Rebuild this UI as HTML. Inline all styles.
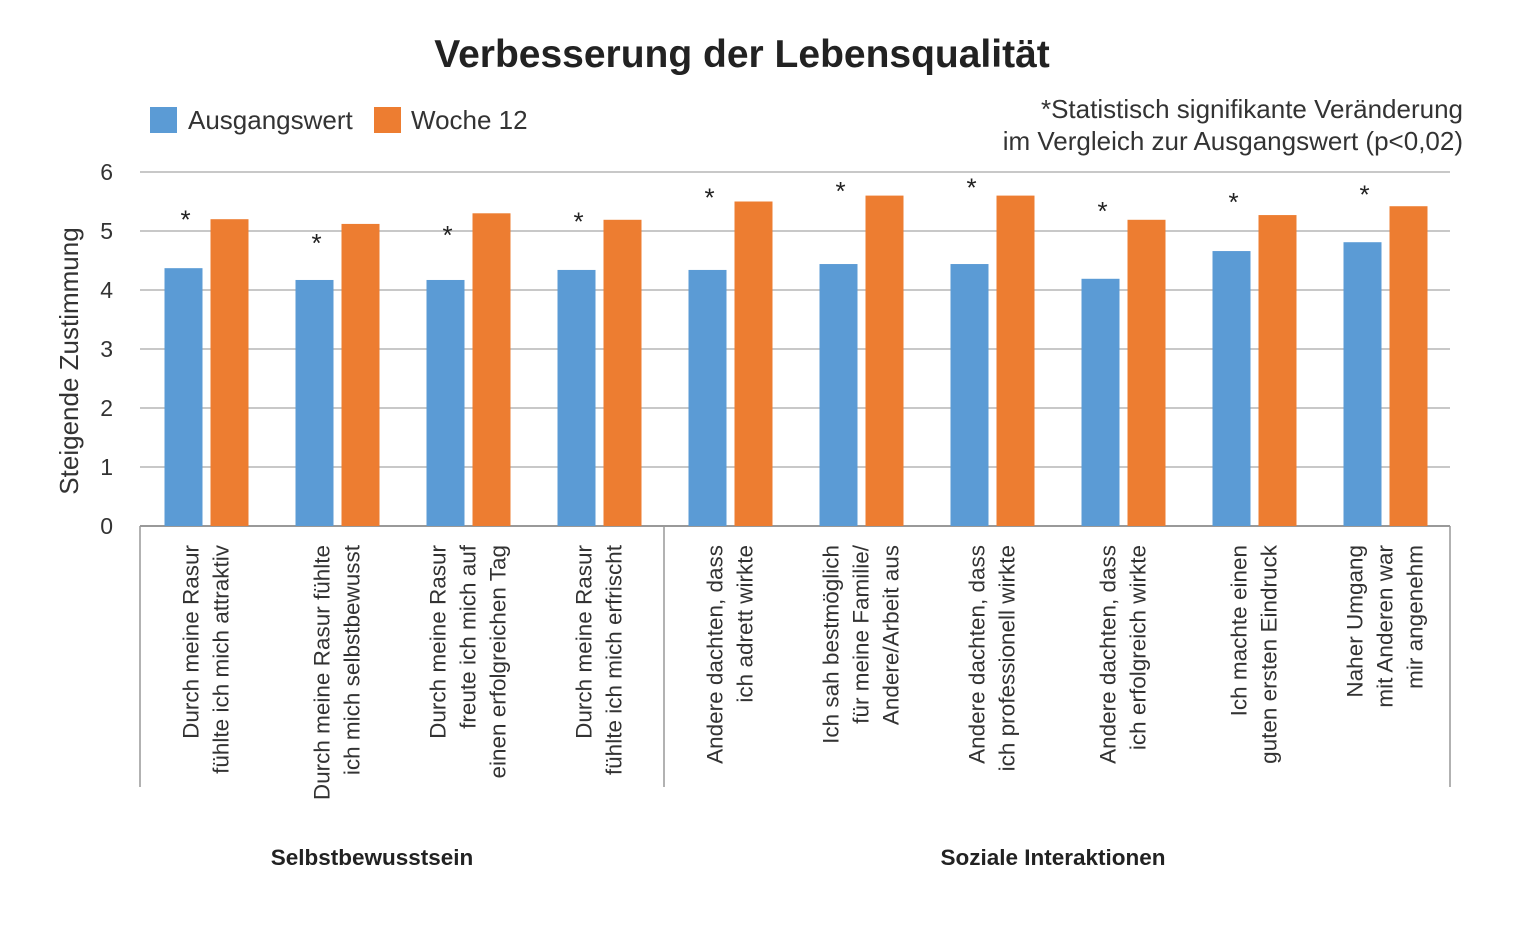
<!DOCTYPE html>
<html><head><meta charset="utf-8">
<style>
html,body{margin:0;padding:0;background:#fff;}
body{width:1540px;height:920px;overflow:hidden;font-family:"Liberation Sans",sans-serif;}
svg text{font-family:"Liberation Sans",sans-serif;}
</style></head>
<body>
<svg id="chart" width="1540" height="920" viewBox="0 0 1540 920" xmlns="http://www.w3.org/2000/svg">
<text x="742" y="67" text-anchor="middle" font-size="39" font-weight="bold" fill="#222">Verbesserung der Lebensqualität</text>
<rect x="150" y="107" width="27" height="26" fill="#5b9bd5"/>
<text x="188" y="129" font-size="26" fill="#333">Ausgangswert</text>
<rect x="374" y="107" width="27" height="26" fill="#ed7d31"/>
<text x="411" y="129" font-size="26" fill="#333">Woche 12</text>
<text x="1463" y="118" text-anchor="end" font-size="26" fill="#333">*Statistisch signifikante Veränderung</text>
<text x="1463" y="150" text-anchor="end" font-size="26" fill="#333">im Vergleich zur Ausgangswert (p&lt;0,02)</text>
<text transform="translate(78,361) rotate(-90)" text-anchor="middle" font-size="26" fill="#333">Steigende Zustimmung</text>
<g id="plot"></g>
</svg>
<script>
const categories = [
 ["Durch meine Rasur","fühlte ich mich attraktiv"],
 ["Durch meine Rasur fühlte","ich mich selbstbewusst"],
 ["Durch meine Rasur","freute ich mich auf","einen erfolgreichen Tag"],
 ["Durch meine Rasur","fühlte ich mich erfrischt"],
 ["Andere dachten, dass","ich adrett wirkte"],
 ["Ich sah bestmöglich","für meine Familie/","Andere/Arbeit aus"],
 ["Andere dachten, dass","ich professionell wirkte"],
 ["Andere dachten, dass","ich erfolgreich wirkte"],
 ["Ich machte einen","guten ersten Eindruck"],
 ["Naher Umgang","mit Anderen war","mir angenehm"]
];
const baseline = [4.37,4.17,4.17,4.34,4.34,4.44,4.44,4.19,4.66,4.81];
const week12 = [5.2,5.12,5.3,5.19,5.5,5.6,5.6,5.19,5.27,5.42];
const starLevel = [5.28,4.88,5.02,5.25,5.65,5.76,5.82,5.42,5.58,5.7];
const yTicks = [0,1,2,3,4,5,6];
const groups = [["Selbstbewusstsein",0,4],["Soziale Interaktionen",4,10]];

const NS="http://www.w3.org/2000/svg";
const g=document.getElementById('plot');
const x0=140,x1=1450,yBase=526,yTop=172,yMax=6;
const band=(x1-x0)/categories.length;
const y=v=>yBase-(v/yMax)*(yBase-yTop);
const cx=i=>x0+band*(i+0.5);
function mk(t,a){const e=document.createElementNS(NS,t);for(const k in a)e.setAttribute(k,a[k]);g.appendChild(e);return e;}
yTicks.forEach(t=>{
 const l=mk('line',{x1:x0,x2:x1,y1:y(t),y2:y(t),stroke:t===0?'#999':'#b5b5b5','stroke-width':t===0?2:1.5});
 
 
 const tx=mk('text',{x:113,y:y(t)+8,'text-anchor':'end','font-size':23,fill:'#333'});
 tx.textContent=t;
 
 
});
categories.forEach((c,i)=>{
 const c0=cx(i);
 const b=mk('rect',{x:c0-41,y:y(baseline[i]),width:38,height:yBase-y(baseline[i]),fill:'#5b9bd5'});
 
 
 const o=mk('rect',{x:c0+5,y:y(week12[i]),width:38,height:yBase-y(week12[i]),fill:'#ed7d31'});
 
 
 const s=mk('text',{x:c0-20,y:y(starLevel[i])+14,'text-anchor':'middle','font-size':26,fill:'#222'});
 s.textContent='*';
 
 
 const n=c.length;
 const t=mk('text',{transform:`translate(${c0},545) rotate(-90)`,'text-anchor':'end','font-size':22.5,fill:'#333'});
 
 
 c.forEach((line,k)=>{
  const ts=document.createElementNS(NS,'tspan');
  ts.setAttribute('x',0);
  ts.setAttribute('y',(k-(n-1)/2)*30+8);
  ts.textContent=line;
  t.appendChild(ts);
 });
});
[0,4,10].forEach(k=>{
 const xx=x0+band*k;
 const l=mk('line',{x1:xx,x2:xx,y1:yBase,y2:787,stroke:'#999','stroke-width':1.5});
 
 
});
groups.forEach(gr=>{
 const t=mk('text',{x:(x0+band*gr[1]+x0+band*gr[2])/2+(gr[1]===0?-30:-4),y:865,'text-anchor':'middle','font-size':22.5,'font-weight':'bold',fill:'#222'});
 t.textContent=gr[0];
 
 
});
</script>
</body></html>
